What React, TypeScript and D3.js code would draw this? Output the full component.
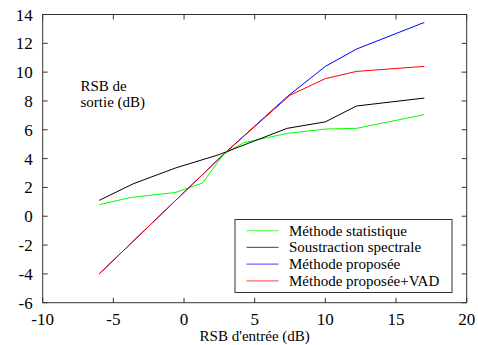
import { useEffect, useRef } from "react";
import * as d3 from "d3";

const statX = [-6, -3.8, -0.6, 1.3, 2.8, 4.2, 7.3, 10, 12.2, 17];
const statY = [0.8, 1.3, 1.65, 2.3, 4.3, 5.1, 5.75, 6.05, 6.1, 7.05];
const specX = [-6, -3.6, -0.6, 2.4, 7.3, 10, 12.2, 17];
const specY = [1.1, 2.25, 3.35, 4.25, 6.1, 6.55, 7.65, 8.2];
const propX = [-6, 2.8, 7.3, 10, 12.2, 17];
const propY = [-4, 4.3, 8.3, 10.4, 11.6, 13.45];
const vadX = [-6, 2.8, 7.5, 10, 12.2, 17];
const vadY = [-4, 4.3, 8.4, 9.55, 10.05, 10.4];

const seriesNames = ["Méthode statistique", "Soustraction spectrale", "Méthode proposée", "Méthode proposée+VAD"];
const seriesColors = ["#00ff00", "#000000", "#0000ff", "#ff0000"];
const xTicks = [-10, -5, 0, 5, 10, 15, 20];
const yTicks = [-6, -4, -2, 0, 2, 4, 6, 8, 10, 12, 14];

const FONT = "Liberation Serif";

export default function App() {
  const ref = useRef<SVGSVGElement>(null);

  useEffect(() => {
    document.body.style.margin = "0";
    const width = 478;
    const height = 345;
    const margin = { top: 14.5, right: 11.3, bottom: 42.3, left: 42.7 };
    const x = d3.scaleLinear().domain([-10, 20]).range([margin.left, width - margin.right]);
    const y = d3.scaleLinear().domain([-6, 14]).range([height - margin.bottom, margin.top]);
    const svg = d3.select(ref.current).attr("width", width).attr("height", height);
    svg.selectAll("*").remove();
    svg.append("rect").attr("width", width).attr("height", height).attr("fill", "#fff");

    const line = d3.line<[number, number]>().x((d) => x(d[0])).y((d) => y(d[1]));
    const series = [[statX, statY], [specX, specY], [propX, propY], [vadX, vadY]];
    series.forEach(([xs, ys], i) => {
      svg.append("path")
        .attr("d", line(xs.map((v, k) => [v, ys[k]] as [number, number])) ?? "")
        .attr("fill", "none").attr("stroke", seriesColors[i]).attr("stroke-width", 1);
    });

    const x0 = x(-10), x1 = x(20), y0 = y(-6), y1 = y(14);
    const tick = 5;
    svg.append("rect").attr("x", x0).attr("y", y1).attr("width", x1 - x0).attr("height", y0 - y1)
      .attr("fill", "none").attr("stroke", "#333");

    xTicks.forEach((t) => {
      svg.append("line").attr("x1", x(t)).attr("x2", x(t)).attr("y1", y0).attr("y2", y0 - tick).attr("stroke", "#333");
      svg.append("line").attr("x1", x(t)).attr("x2", x(t)).attr("y1", y1).attr("y2", y1 + tick).attr("stroke", "#333");
      svg.append("text").attr("x", x(t)).attr("y", y0 + 22).attr("text-anchor", "middle")
        .attr("font-family", FONT).attr("font-size", 17).text(String(t));
    });
    yTicks.forEach((t) => {
      svg.append("line").attr("x1", x0).attr("x2", x0 + tick).attr("y1", y(t)).attr("y2", y(t)).attr("stroke", "#333");
      svg.append("line").attr("x1", x1).attr("x2", x1 - tick).attr("y1", y(t)).attr("y2", y(t)).attr("stroke", "#333");
      svg.append("text").attr("x", x0 - 10).attr("y", y(t) + 6).attr("text-anchor", "end")
        .attr("font-family", FONT).attr("font-size", 17).text(String(t));
    });

    svg.append("text").attr("x", (x0 + x1) / 2).attr("y", height - 4).attr("text-anchor", "middle")
      .attr("font-family", FONT).attr("font-size", 15).text("RSB d'entrée (dB)");
    svg.append("text").attr("x", 80.5).attr("y", 90.5).attr("font-family", FONT).attr("font-size", 15).text("RSB de");
    svg.append("text").attr("x", 80.5).attr("y", 106.5).attr("font-family", FONT).attr("font-size", 15).text("sortie (dB)");

    svg.append("rect").attr("x", 235).attr("y", 219.5).attr("width", 217).attr("height", 73)
      .attr("fill", "#fff").attr("stroke", "#333");
    seriesNames.forEach((name, i) => {
      const g = svg.append("g").attr("transform", `translate(0, ${230.7 + i * 16.7})`);
      g.append("line").attr("x1", 246.5).attr("x2", 278.5).attr("stroke", seriesColors[i]).attr("stroke-opacity", 0.6).attr("stroke-width", 1.2);
      g.append("text").attr("x", 289).attr("y", 5).attr("font-family", FONT).attr("font-size", 15).text(name);
    });
  }, []);

  return <svg ref={ref} style={{ display: "block" }} />;
}
